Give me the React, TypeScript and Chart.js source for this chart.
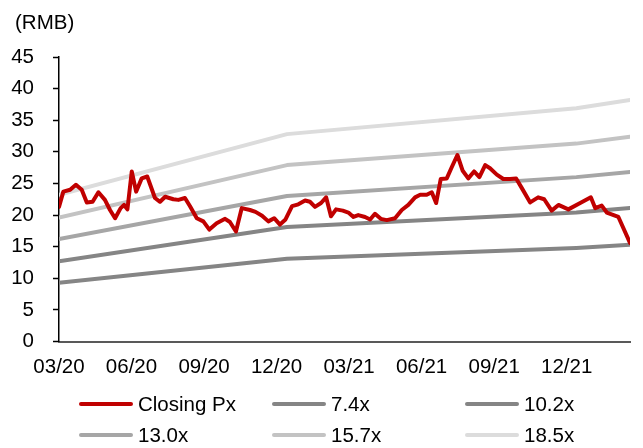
import React, { useEffect, useRef } from "react";
import { Chart, registerables } from "chart.js";

Chart.register(...registerables);

// x positions are months since the 03/20 tick
const tickMonths = [0, 3, 6, 9, 12, 15, 18, 21];
const tickLabels = ["03/20", "06/20", "09/20", "12/20", "03/21", "06/21", "09/21", "12/21"];
const yTicks = [0, 5, 10, 15, 20, 25, 30, 35, 40, 45];

const priceMonths = [
  0, 0.18, 0.46, 0.7, 0.94, 1.15, 1.39, 1.63, 1.9, 2.11, 2.32, 2.55, 2.69, 2.83, 3.01, 3.19,
  3.42, 3.65, 3.97, 4.18, 4.39, 4.73, 4.94, 5.21, 5.42, 5.7, 5.97, 6.22, 6.52, 6.87, 7.07,
  7.32, 7.56, 7.9, 8.13, 8.4, 8.66, 8.9, 9.14, 9.37, 9.64, 9.9, 10.18, 10.38, 10.59, 10.84,
  11.05, 11.25, 11.46, 11.74, 11.97, 12.18, 12.38, 12.66, 12.87, 13.07, 13.31, 13.56, 13.9,
  14.18, 14.45, 14.73, 14.94, 15.21, 15.42, 15.6, 15.79, 16.04, 16.25, 16.48, 16.7, 16.93,
  17.17, 17.39, 17.63, 17.83, 18.11, 18.38, 18.66, 18.91, 19.14, 19.49, 19.82, 20.07, 20.38,
  20.66, 21.07, 21.56, 22.0, 22.18, 22.45, 22.66, 23.14, 23.62,
];
const closingPx = [
  21.3, 23.7, 24.0, 24.8, 24.0, 22.0, 22.1, 23.6, 22.4, 20.8, 19.5, 21.1, 21.6, 20.9, 26.9, 23.7,
  25.8, 26.1, 22.7, 22.1, 22.9, 22.5, 22.4, 22.7, 21.4, 19.5, 19.0, 17.7, 18.7, 19.4, 18.9,
  17.4, 21.1, 20.8, 20.5, 19.9, 19.0, 19.5, 18.5, 19.3, 21.4, 21.7, 22.3, 22.1, 21.3, 21.9,
  22.8, 19.8, 20.9, 20.7, 20.4, 19.7, 20.0, 19.7, 19.3, 20.2, 19.4, 19.2, 19.5,
  20.8, 21.6, 22.8, 23.2, 23.2, 23.6, 21.9, 25.7, 25.8, 27.6, 29.5, 27.0, 25.8,
  26.9, 26.0, 27.9, 27.4, 26.4, 25.7, 25.7, 25.8, 24.3, 22.0, 22.8, 22.5, 20.7,
  21.6, 20.9, 21.9, 22.8, 21.1, 21.5, 20.4, 19.7, 15.6,
];

const bandMonths = [0, 9.43, 21.4, 23.62];
const pe74 = [9.3, 13.1, 14.8, 15.3];
const pe102 = [12.7, 18.1, 20.4, 21.1];
const pe130 = [16.2, 23.0, 26.0, 26.8];
const pe157 = [19.6, 27.9, 31.3, 32.4];
const pe185 = [23.2, 32.8, 36.9, 38.2];

const seriesNames = ["Closing Px", "7.4x", "10.2x", "13.0x", "15.7x", "18.5x"];
const seriesColors = ["#c00000", "#858585", "#858585", "#a6a6a6", "#c3c3c3", "#dcdcdc"];

const FONT = "'Liberation Sans', Arial, sans-serif";
const FS = 20.5;

const toPts = (xs: number[], ys: number[]) => xs.map((x, i) => ({ x, y: ys[i] }));

export default function App() {
  const ref = useRef<HTMLCanvasElement | null>(null);

  useEffect(() => {
    if (!ref.current) return;
    const bands = [pe74, pe102, pe130, pe157, pe185];
    const datasets: any[] = [
      {
        label: seriesNames[0],
        data: toPts(priceMonths, closingPx),
        borderColor: seriesColors[0],
        borderWidth: 4,
        pointRadius: 0,
        borderJoinStyle: "round",
        borderCapStyle: "round",
        tension: 0,
      },
      ...bands.map((b, i) => ({
        label: seriesNames[i + 1],
        data: toPts(bandMonths, b),
        borderColor: seriesColors[i + 1],
        borderWidth: 4,
        pointRadius: 0,
        borderJoinStyle: "round",
        borderCapStyle: "round",
        tension: 0,
      })),
    ];
    const chart = new Chart(ref.current, {
      type: "line",
      data: { datasets },
      options: {
        animation: false,
        responsive: false,
        events: [],
        layout: { padding: { top: 57, left: 0, right: 13, bottom: 66.5 } },
        plugins: { legend: { display: false }, tooltip: { enabled: false }, title: { display: false } },
        scales: {
          x: {
            type: "linear",
            min: 0,
            max: 23.62,
            afterBuildTicks: (s: any) => {
              s.ticks = tickMonths.map((v) => ({ value: v }));
            },
            afterFit: (s: any) => {
              s.height = 40;
            },
            ticks: {
              autoSkip: false,
              maxRotation: 0,
              padding: 14,
              color: "#000",
              font: { family: FONT, size: FS },
              callback: (_v: any, i: number) => tickLabels[i],
            },
            grid: { drawOnChartArea: false, drawTicks: false },
            border: { color: "#595959", width: 2 },
          },
          y: {
            min: 0,
            max: 45,
            afterBuildTicks: (s: any) => {
              s.ticks = yTicks.map((v) => ({ value: v }));
            },
            afterFit: (s: any) => {
              s.width = 59;
            },
            ticks: {
              padding: 19,
              color: "#000",
              font: { family: FONT, size: FS },
            },
            grid: { drawOnChartArea: false, drawTicks: true, tickLength: 6, tickColor: "#000", tickWidth: 1.5 },
            border: { color: "#000", width: 1.5 },
          },
        },
      },
    });
    return () => chart.destroy();
  }, []);

  const colX = [79, 272, 465];
  const rowY = [404, 435];

  return (
    <div style={{ position: "fixed", left: 0, top: 0, width: 643, height: 448, background: "#fff", fontFamily: FONT }}>
      <canvas ref={ref} width={643} height={448} style={{ position: "absolute", left: 0, top: 0 }} />
      <div style={{ position: "absolute", left: 15, top: 10, fontSize: FS, lineHeight: "24px", color: "#000" }}>(RMB)</div>
      {seriesNames.map((name, i) => {
        const col = i % 3;
        const row = Math.floor(i / 3);
        return (
          <div
            key={name}
            style={{
              position: "absolute",
              left: colX[col],
              top: rowY[row] - 12,
              height: 24,
              display: "flex",
              alignItems: "center",
              fontSize: FS,
              color: "#000",
              whiteSpace: "nowrap",
            }}
          >
            <span style={{ display: "inline-block", width: 54, height: 3.5, borderRadius: 2, background: seriesColors[i], marginRight: 5 }} />
            <span>{name}</span>
          </div>
        );
      })}
    </div>
  );
}
